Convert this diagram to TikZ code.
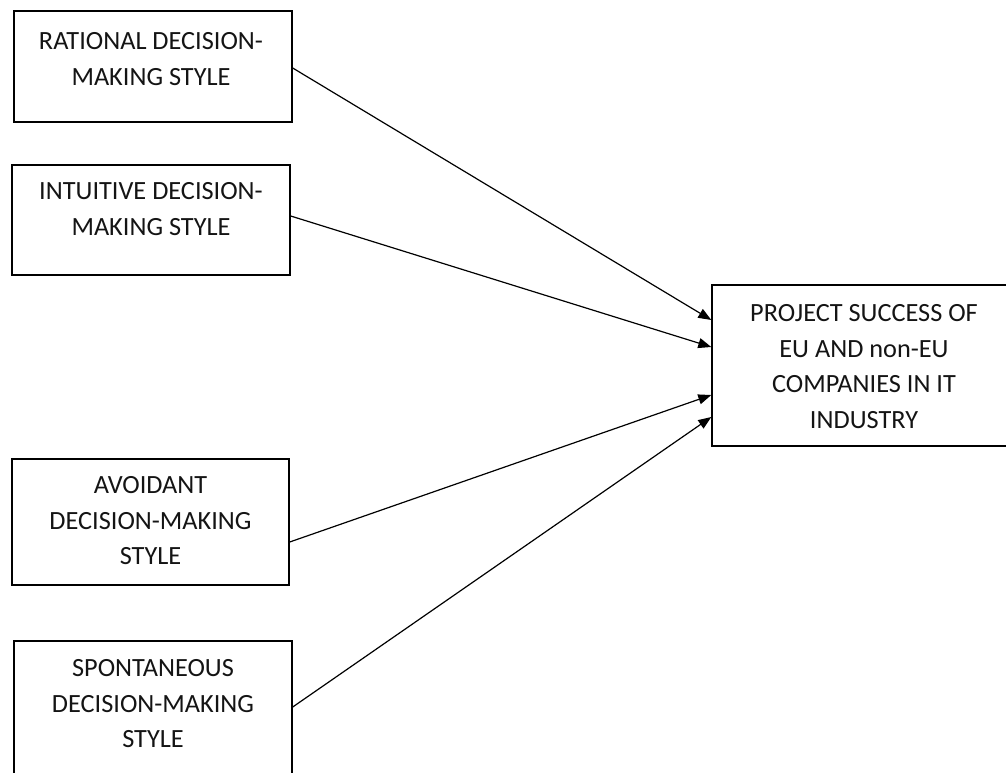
\documentclass[tikz,border=0pt]{standalone}
\usepackage{fontspec}
\setmainfont{Carlito}
\usetikzlibrary{arrows.meta}
\begin{document}
\begin{tikzpicture}[x=1pt,y=-1pt,
  boxs/.style={draw=black,line width=1.4pt,inner sep=0pt,minimum width=#1},
  txt/.style={anchor=north,inner sep=0pt,align=center,text=black!92,
    font=\fontsize{26.3}{35.5}\selectfont},
  conn/.style={line width=1.2pt,-{Triangle[length=13pt,width=10pt]}}]
\useasboundingbox (0,0) rectangle (1006,772);
\node[boxs=278pt,minimum height=111pt] (r1) at (153,66.5) {};
\node[boxs=278pt,minimum height=110pt] (r2) at (151,220) {};
\node[boxs=277pt,minimum height=126pt] (r3) at (150.5,522) {};
\node[boxs=278pt,minimum height=159pt] (r4) at (153,720.5) {};
\node[boxs=318pt,minimum height=161pt] (p) at (871,365.5) {};
\node[txt] (t1) at ([yshift=-22pt,xshift=-2pt]r1.north) {RATIONAL DECISION-\\MAKING STYLE};
\node[txt] (t2) at ([yshift=-18pt]r2.north) {INTUITIVE DECISION-\\MAKING STYLE};
\node[txt] (t3) at ([yshift=-18pt]r3.north) {AVOIDANT\\DECISION-MAKING\\STYLE};
\node[txt] (t4) at ([yshift=-19pt]r4.north) {SPONTANEOUS\\DECISION-MAKING\\STYLE};
\node[txt] (t5) at ([yshift=-20pt,xshift=-7pt]p.north) {PROJECT SUCCESS OF\\EU AND non-EU\\COMPANIES IN IT\\INDUSTRY};
\draw[conn] ([yshift=-1.5pt]r1.east) -- ([yshift=45.5pt]p.west);
\draw[conn] ([yshift=4pt]r2.east) -- ([yshift=18.5pt]p.west);
\draw[conn] ([yshift=-20pt]r3.east) -- ([yshift=-29.5pt]p.west);
\draw[conn] ([yshift=13.5pt]r4.east) -- ([yshift=-51.5pt]p.west);
\end{tikzpicture}
\end{document}
